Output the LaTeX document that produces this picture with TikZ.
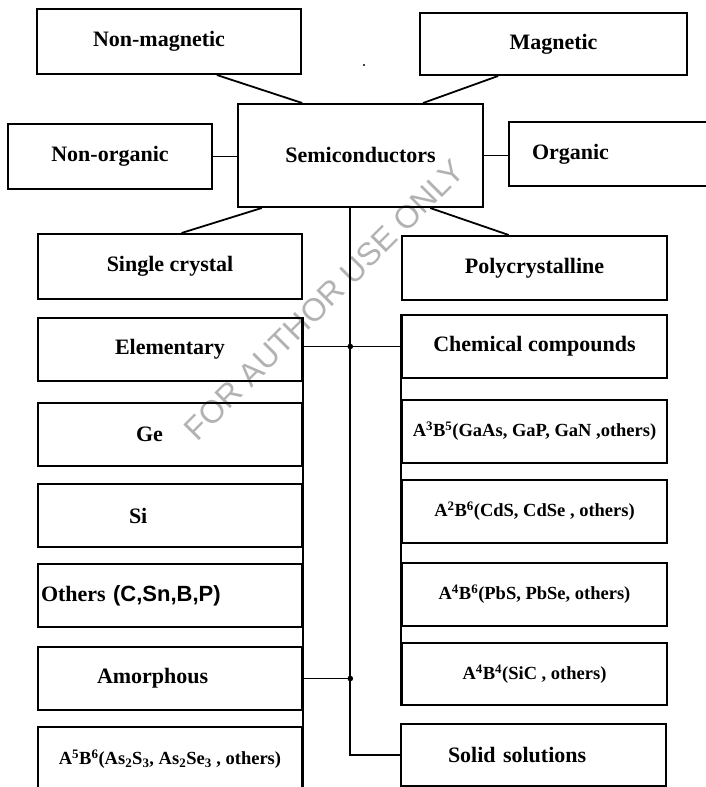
\documentclass[tikz,border=0pt]{standalone}
\usepackage{fontspec}
\setmainfont{Liberation Serif}
\newfontfamily\sansfnt{Liberation Sans}

\begin{document}
\begin{tikzpicture}[x=1pt, y=-1pt,
    box/.style={draw, line width=2pt, anchor=north west, inner sep=0pt,
                minimum width=264pt, minimum height=63pt,
                font=\bfseries\fontsize{22}{26}\selectfont},
    subbox/.style={font=\bfseries\fontsize{18.5}{22}\selectfont},
    lft/.style={align=left, text width=#1},
    conn/.style={line width=1.8pt},
    wmark/.style={text=black!30, rotate=45, font=\sansfnt\fontsize{32}{36}\selectfont}]
  \useasboundingbox (0,0) rectangle (705,787);
  \node[wmark] (wm) at (324,300) {FOR AUTHOR USE ONLY};

  \node[box, minimum height=65pt, lft=152pt] (nonmag) at (36,8) {Non-magnetic};
  \node[box, minimum width=267pt, minimum height=62pt] (mag) at (419,12) {Magnetic};
  \node[box, minimum width=245pt, minimum height=103pt] (semi) at (237,103) {Semiconductors};
  \node[box, minimum width=204pt, minimum height=65pt] (nonorg) at (7,123) {Non-organic};
  \node[box, minimum width=212pt, minimum height=64pt, lft=166pt] (org) at (508,121) {Organic};

  \node[box, minimum height=65pt] (single) at (37,233) {Single crystal};
  \node[box, minimum width=265pt, minimum height=64pt] (poly) at (401,235) {Polycrystalline};

  \node[box] (elem) at (37,317) {Elementary};
  \node[box, lft=68pt] (ge) at (37,402) {Ge};
  \node[box, lft=82pt] (si) at (37,483) {Si};
  \node[box, lft=258pt] (others) at (37,563) {Others {\sansfnt(C,Sn,B,P)}};
  \node[box, lft=146pt] (amor) at (37,646) {Amorphous};
  \node[box, subbox, minimum height=64pt] (asse) at (37,726)
    {A\textsuperscript{5}B\textsuperscript{6}(As\textsubscript{2}S\textsubscript{3}, As\textsubscript{2}Se\textsubscript{3} , others)};

  \node[box, minimum width=265pt] (chem) at (401,314) {Chemical compounds};
  \node[box, subbox, minimum width=265pt] (ab35) at (401,399) {A\textsuperscript{3}B\textsuperscript{5}(GaAs, GaP, GaN ,others)};
  \node[box, subbox, minimum width=265pt] (ab26) at (401,479) {A\textsuperscript{2}B\textsuperscript{6}(CdS, CdSe , others)};
  \node[box, subbox, minimum width=265pt] (ab46) at (401,562) {A\textsuperscript{4}B\textsuperscript{6}(PbS, PbSe, others)};
  \node[box, subbox, minimum width=265pt, minimum height=62pt] (ab44) at (401,642) {A\textsuperscript{4}B\textsuperscript{4}(SiC , others)};
  \node[box, minimum width=265pt, minimum height=62pt, lft=171pt] (solid) at (400,723) {Solid solutions};

  \coordinate (trunk) at (semi.259.5);
  \draw[conn] (nonmag.-35.2) -- (semi.138.2);
  \draw[conn] (mag.210.6) -- (semi.40.9);
  \draw[conn] (nonorg.east) -- (nonorg.east -| semi.west);
  \draw[conn] (semi.east) -- (semi.east -| org.west);
  \draw[conn] (semi.208.6) -- (single.71.3);
  \draw[conn] (semi.-37.8) -- (poly.128.6);
  \draw[conn] (trunk) |- (solid.west);
  \draw[conn] (elem.east |- chem.west) -- (chem.west);
  \draw[conn] (amor.east) -- (amor.east -| trunk);
  \fill (trunk |- chem.west) circle (2.8pt);
  \fill (trunk |- amor.east) circle (2.8pt);
  \draw[line width=2pt] (elem.north east) -- (asse.south east);
  \draw[line width=2pt] (chem.north west) -- (ab44.south west);
  \fill (364,65) circle (1.1pt);
\end{tikzpicture}
\end{document}
